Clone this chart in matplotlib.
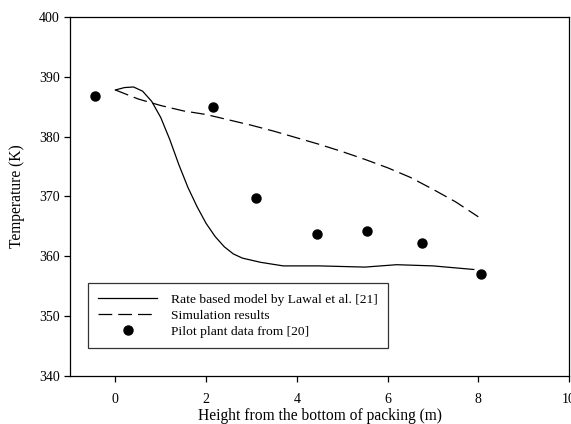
import matplotlib
matplotlib.use("Agg")
import matplotlib.pyplot as plt

plt.rcParams['font.family'] = ['Liberation Serif', 'DejaVu Serif']

# Rate based model (solid)
rate_x = [0, 0.2, 0.4, 0.6, 0.8, 1.0, 1.2, 1.4, 1.6, 1.8, 2.0, 2.2, 2.4, 2.6, 2.8, 3.2, 3.7, 4.5, 5.5, 6.2, 7.0, 7.9]
rate_y = [387.8, 388.2, 388.3, 387.6, 385.9, 383.2, 379.5, 375.3, 371.5, 368.3, 365.5, 363.3, 361.6, 360.4, 359.7, 359.0, 358.4, 358.4, 358.2, 358.6, 358.4, 357.8]

# Simulation results (dashed)
sim_x = [0, 0.5, 1, 1.5, 2, 2.5, 3, 3.5, 4, 4.5, 5, 5.5, 6, 6.5, 7, 7.5, 8]
sim_y = [387.8, 386.3, 385.2, 384.3, 383.7, 382.8, 381.9, 380.9, 379.8, 378.7, 377.5, 376.2, 374.8, 373.2, 371.2, 369.1, 366.6]

# Pilot plant data
pilot_x = [-0.45, 2.15, 3.1, 4.45, 5.55, 6.75, 8.05]
pilot_y = [386.8, 385.0, 369.8, 363.8, 364.3, 362.3, 357.1]

xticks = [0, 2, 4, 6, 8, 10]
yticks = [340, 350, 360, 370, 380, 390, 400]

fig = plt.figure(figsize=(5.71, 4.24), dpi=100)
ax = fig.add_axes([0.1226, 0.1132, 0.874, 0.8468])

ax.plot(rate_x, rate_y, color='black', lw=0.9, label='Rate based model by Lawal et al. [21]')
ax.plot(sim_x, sim_y, color='black', lw=0.9, dashes=(11, 4.8), label='Simulation results')
ax.plot(pilot_x, pilot_y, 'o', color='black', ms=6.5, label='Pilot plant data from [20]')

ax.set_xlim(-1, 10)
ax.set_ylim(340, 400)
ax.set_xticks(xticks)
ax.set_yticks(yticks)
ax.tick_params(direction='out', length=4, width=0.9, labelsize=10, top=False, right=False)
ax.tick_params(axis='x', pad=8)
for s in ax.spines.values():
    s.set_linewidth(0.9)

ax.set_xlabel('Height from the bottom of packing (m)', fontsize=11.2, labelpad=2)
ax.set_ylabel('Temperature (K)', fontsize=11.2, labelpad=10)

leg = ax.legend(loc='lower left', bbox_to_anchor=(0.036, 0.0788, 0.601, 0.187), mode='expand',
                fontsize=9.7, frameon=True, fancybox=False, handlelength=4.4, handletextpad=1.0,
                borderaxespad=0, labelspacing=0.25, borderpad=0.75)
leg.get_frame().set_edgecolor('black')
leg.get_frame().set_linewidth(0.9)

fig.savefig('out.png', dpi=100)
